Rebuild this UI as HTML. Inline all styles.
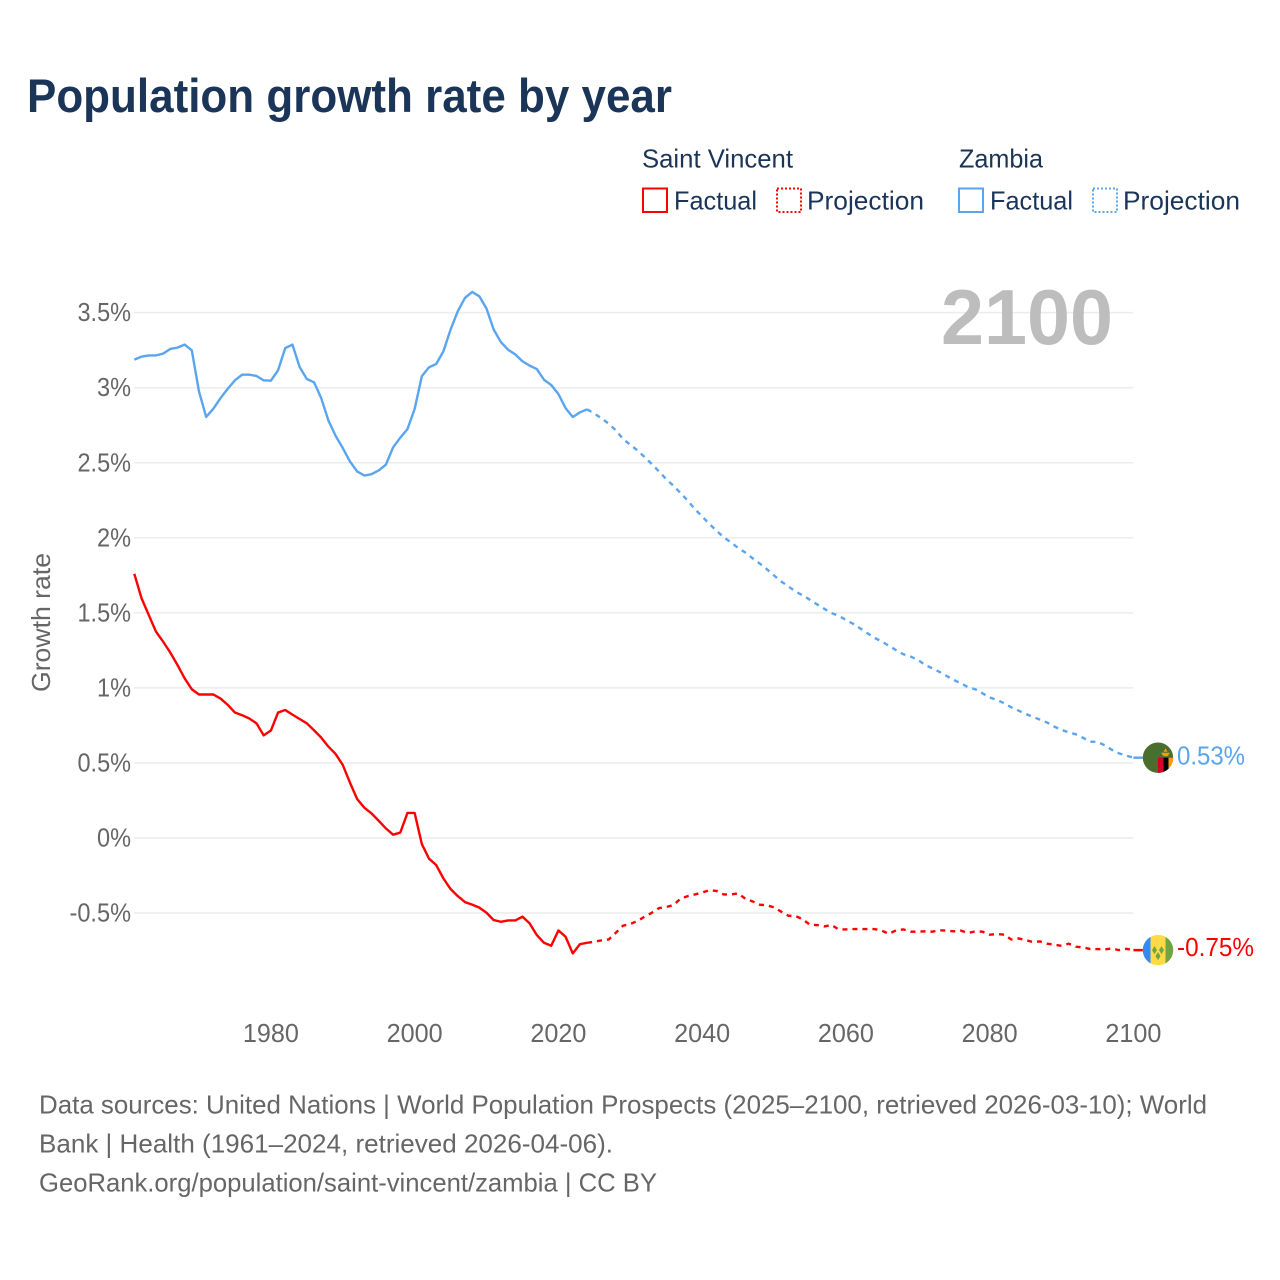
<!DOCTYPE html>
<html lang="en">
<head>
<meta charset="utf-8">
<title>Population growth rate by year</title>
<style>
html,body{margin:0;padding:0;background:#fff}
svg{display:block}
text{font-family:"Liberation Sans",Arial,sans-serif}
.dark{fill:#1a3557;font-size:26px}
.muted{fill:#666;font-size:26px}
</style>
</head>
<body>
<svg id="chart" xmlns="http://www.w3.org/2000/svg" width="1280" height="1280" viewBox="0 0 1280 1280">
  <rect width="1280" height="1280" fill="#fff"/>
  <text x="27" y="112" font-size="47" font-weight="700" fill="#1a3557" textLength="645" lengthAdjust="spacingAndGlyphs">Population growth rate by year</text>

  <g>
    <text class="dark" x="642" y="167.5" textLength="151" lengthAdjust="spacingAndGlyphs">Saint Vincent</text>
    <text class="dark" x="959" y="167.5" textLength="84" lengthAdjust="spacingAndGlyphs">Zambia</text>
    <rect x="643" y="188.5" width="24" height="23.5" fill="none" stroke="#ff0000" stroke-width="2"/>
    <text class="dark" x="674" y="209.5" textLength="83" lengthAdjust="spacingAndGlyphs">Factual</text>
    <rect x="777" y="188.5" width="24" height="23.5" fill="none" stroke="#ff0000" stroke-width="2" stroke-dasharray="2 2"/>
    <text class="dark" x="807" y="209.5" textLength="117" lengthAdjust="spacingAndGlyphs">Projection</text>
    <rect x="959" y="188.5" width="24" height="23.5" fill="none" stroke="#5aa5f0" stroke-width="2"/>
    <text class="dark" x="990" y="209.5" textLength="83" lengthAdjust="spacingAndGlyphs">Factual</text>
    <rect x="1093" y="188.5" width="24" height="23.5" fill="none" stroke="#5aa5f0" stroke-width="2" stroke-dasharray="2 2"/>
    <text class="dark" x="1123" y="209.5" textLength="117" lengthAdjust="spacingAndGlyphs">Projection</text>
  </g>

  <text class="muted" transform="translate(50 622.5) rotate(-90)" text-anchor="middle" textLength="139" lengthAdjust="spacingAndGlyphs">Growth rate</text>
  <g id="grid"></g>
  <g id="yticks"></g>
  <g id="xticks"></g>
  <text x="941" y="344" font-size="78" font-weight="700" fill="#bdbdbd" textLength="172" lengthAdjust="spacingAndGlyphs">2100</text>
  <g id="series"></g>

  <defs>
    <clipPath id="flag-clip"><circle cx="0" cy="0" r="15.2"/></clipPath>
  </defs>

  <g id="zambia-end">
    <g clip-path="url(#flag-clip)" transform="translate(1158 0)">
      <rect x="-16" y="-16" width="32" height="32" fill="#496e2d"/>
      <rect x="0" y="0" width="5.5" height="16" fill="#d80027"/>
      <rect x="5.5" y="0" width="5" height="16" fill="#000"/>
      <rect x="10.5" y="0" width="6" height="16" fill="#ff9811"/>
      <path d="M3 -5 L12 -5 L9.5 -1.5 L5.5 -1.5 Z M5.5 -6 L7.5 -9.5 L9.5 -6 Z" fill="#ff9811"/>
    </g>
    <text x="1177" y="7" font-size="26" fill="#5aa5f0" textLength="68" lengthAdjust="spacingAndGlyphs">0.53%</text>
  </g>
  <g id="saint-end">
    <g clip-path="url(#flag-clip)" transform="translate(1158 0)">
      <rect x="-16" y="-16" width="32" height="32" fill="#ffda44"/>
      <rect x="-16" y="-16" width="8.5" height="32" fill="#338af3"/>
      <rect x="7.5" y="-16" width="8.5" height="32" fill="#6da544"/>
      <path d="M-3.5 -4 L-1 0 L-3.5 4 L-6 0 Z M3.5 -4 L6 0 L3.5 4 L1 0 Z M0 2 L2.5 6 L0 10 L-2.5 6 Z" fill="#6da544"/>
    </g>
    <text x="1177" y="6" font-size="26" fill="#ff0000" textLength="77" lengthAdjust="spacingAndGlyphs">-0.75%</text>
  </g>

  <g>
    <text class="muted" x="39" y="1113.5" textLength="1168" lengthAdjust="spacingAndGlyphs">Data sources: United Nations | World Population Prospects (2025–2100, retrieved 2026-03-10); World</text>
    <text class="muted" x="39" y="1152.5" textLength="574" lengthAdjust="spacingAndGlyphs">Bank | Health (1961–2024, retrieved 2026-04-06).</text>
    <text class="muted" x="39" y="1191.5" textLength="618" lengthAdjust="spacingAndGlyphs">GeoRank.org/population/saint-vincent/zambia | CC BY</text>
  </g>
</svg>
<script>
const factualStartYear = 1961;
const projectionStartYear = 2024;
const xTicks = [1980, 2000, 2020, 2040, 2060, 2080, 2100];
const yTicks = [3.5, 3, 2.5, 2, 1.5, 1, 0.5, 0, -0.5];
const yTickLabels = ["3.5%", "3%", "2.5%", "2%", "1.5%", "1%", "0.5%", "0%", "-0.5%"];

const zambiaFactual = [3.187,3.207,3.215,3.215,3.227,3.258,3.267,3.287,3.249,2.975,2.805,2.86,2.931,2.993,3.049,3.087,3.087,3.078,3.049,3.047,3.116,3.264,3.287,3.138,3.058,3.036,2.931,2.782,2.68,2.598,2.509,2.442,2.415,2.424,2.449,2.487,2.602,2.667,2.724,2.858,3.076,3.136,3.158,3.242,3.387,3.509,3.598,3.638,3.609,3.527,3.387,3.304,3.253,3.222,3.176,3.147,3.124,3.053,3.018,2.958,2.864,2.805,2.836,2.856];
const zambiaProjection = [2.856,2.827,2.796,2.76,2.716,2.658,2.62,2.582,2.538,2.491,2.442,2.391,2.347,2.298,2.247,2.191,2.142,2.093,2.047,2.004,1.969,1.933,1.902,1.864,1.829,1.791,1.749,1.709,1.676,1.642,1.616,1.587,1.556,1.527,1.498,1.48,1.453,1.427,1.396,1.364,1.333,1.309,1.28,1.251,1.224,1.209,1.187,1.153,1.131,1.107,1.08,1.053,1.031,1.004,0.991,0.964,0.936,0.92,0.898,0.871,0.849,0.827,0.807,0.789,0.769,0.742,0.72,0.704,0.691,0.667,0.642,0.64,0.618,0.587,0.564,0.549,0.535];
const saintFactual = [1.76,1.598,1.487,1.376,1.309,1.236,1.153,1.064,0.991,0.956,0.956,0.956,0.929,0.887,0.836,0.818,0.796,0.764,0.684,0.716,0.836,0.853,0.822,0.793,0.764,0.718,0.669,0.609,0.56,0.487,0.369,0.26,0.202,0.164,0.115,0.064,0.022,0.036,0.167,0.167,-0.04,-0.138,-0.18,-0.269,-0.34,-0.387,-0.427,-0.444,-0.464,-0.498,-0.547,-0.558,-0.549,-0.549,-0.524,-0.569,-0.647,-0.698,-0.718,-0.616,-0.658,-0.769,-0.707,-0.698];
const saintProjection = [-0.698,-0.691,-0.682,-0.676,-0.631,-0.584,-0.573,-0.553,-0.524,-0.498,-0.467,-0.46,-0.447,-0.404,-0.387,-0.376,-0.364,-0.347,-0.353,-0.376,-0.376,-0.369,-0.404,-0.422,-0.444,-0.449,-0.462,-0.491,-0.518,-0.52,-0.542,-0.578,-0.58,-0.589,-0.58,-0.609,-0.609,-0.607,-0.607,-0.607,-0.607,-0.618,-0.638,-0.615,-0.609,-0.624,-0.624,-0.622,-0.624,-0.615,-0.617,-0.622,-0.617,-0.633,-0.622,-0.624,-0.644,-0.64,-0.644,-0.676,-0.669,-0.68,-0.693,-0.689,-0.704,-0.711,-0.718,-0.704,-0.724,-0.729,-0.74,-0.74,-0.742,-0.736,-0.747,-0.738,-0.747];

const SVGNS = "http://www.w3.org/2000/svg";
function xScale(year) { return 134.3 + 7.188 * (year - 1961); }
function yScale(v) { return 838 - 150.1 * v; }
function labelWidth(s) {
  let w = 0;
  for (const c of s) { w += c === "%" ? 20 : c === "." ? 5.5 : c === "-" ? 8 : 14; }
  return w;
}
function pathFrom(values, startYear) {
  return values.map(function (v, i) {
    return (i ? "L" : "M") + xScale(startYear + i).toFixed(2) + " " + yScale(v).toFixed(2);
  }).join(" ");
}

const grid = document.getElementById("grid");
const yGroup = document.getElementById("yticks");
yTicks.forEach(function (t, i) {
  const line = document.createElementNS(SVGNS, "line");
  
  
  line.setAttribute("x1", 134);
  line.setAttribute("x2", 1133);
  line.setAttribute("y1", yScale(t));
  line.setAttribute("y2", yScale(t));
  line.setAttribute("stroke", "#ececec");
  line.setAttribute("stroke-width", "1.5");
  grid.appendChild(line);
  const label = document.createElementNS(SVGNS, "text");
  
  
  label.setAttribute("class", "muted");
  label.setAttribute("x", 131);
  label.setAttribute("y", yScale(t) + 8.5);
  label.setAttribute("text-anchor", "end");
  label.setAttribute("textLength", labelWidth(yTickLabels[i]));
  label.setAttribute("lengthAdjust", "spacingAndGlyphs");
  label.textContent = yTickLabels[i];
  yGroup.appendChild(label);
});

const xGroup = document.getElementById("xticks");
xTicks.forEach(function (t) {
  const label = document.createElementNS(SVGNS, "text");
  
  
  label.setAttribute("class", "muted");
  label.setAttribute("x", xScale(t));
  label.setAttribute("y", 1042);
  label.setAttribute("text-anchor", "middle");
  label.setAttribute("textLength", 56);
  label.setAttribute("lengthAdjust", "spacingAndGlyphs");
  label.textContent = String(t);
  xGroup.appendChild(label);
});

const seriesGroup = document.getElementById("series");
function addLine(name, d, color, dash) {
  const p = document.createElementNS(SVGNS, "path");
  
  
  p.setAttribute("d", d);
  p.setAttribute("fill", "none");
  p.setAttribute("stroke", color);
  p.setAttribute("stroke-width", "2.4");
  p.setAttribute("stroke-linejoin", "round");
  if (dash) { p.setAttribute("stroke-dasharray", dash); }
  seriesGroup.appendChild(p);
}
addLine("zambia-factual-line", pathFrom(zambiaFactual, factualStartYear), "#5aa5f0");
addLine("zambia-projection-line", pathFrom(zambiaProjection, projectionStartYear), "#5aa5f0", "5 5");
addLine("saint-vincent-factual-line", pathFrom(saintFactual, factualStartYear), "#ff0000");
addLine("saint-vincent-projection-line", pathFrom(saintProjection, projectionStartYear), "#ff0000", "5 5");

const zambiaLast = zambiaProjection[zambiaProjection.length - 1];
const saintLast = saintProjection[saintProjection.length - 1];
const lastYear = projectionStartYear + zambiaProjection.length - 1;
addLine("zambia-end-connector", "M" + xScale(lastYear) + " " + yScale(zambiaLast) + " L1150 " + yScale(zambiaLast), "#5aa5f0");
addLine("saint-vincent-end-connector", "M" + xScale(lastYear) + " " + yScale(saintLast) + " L1150 " + yScale(saintLast), "#ff0000");
document.getElementById("zambia-end").setAttribute("transform", "translate(0 " + yScale(zambiaLast) + ")");
document.getElementById("saint-end").setAttribute("transform", "translate(0 " + yScale(saintLast) + ")");
</script>
</body>
</html>
